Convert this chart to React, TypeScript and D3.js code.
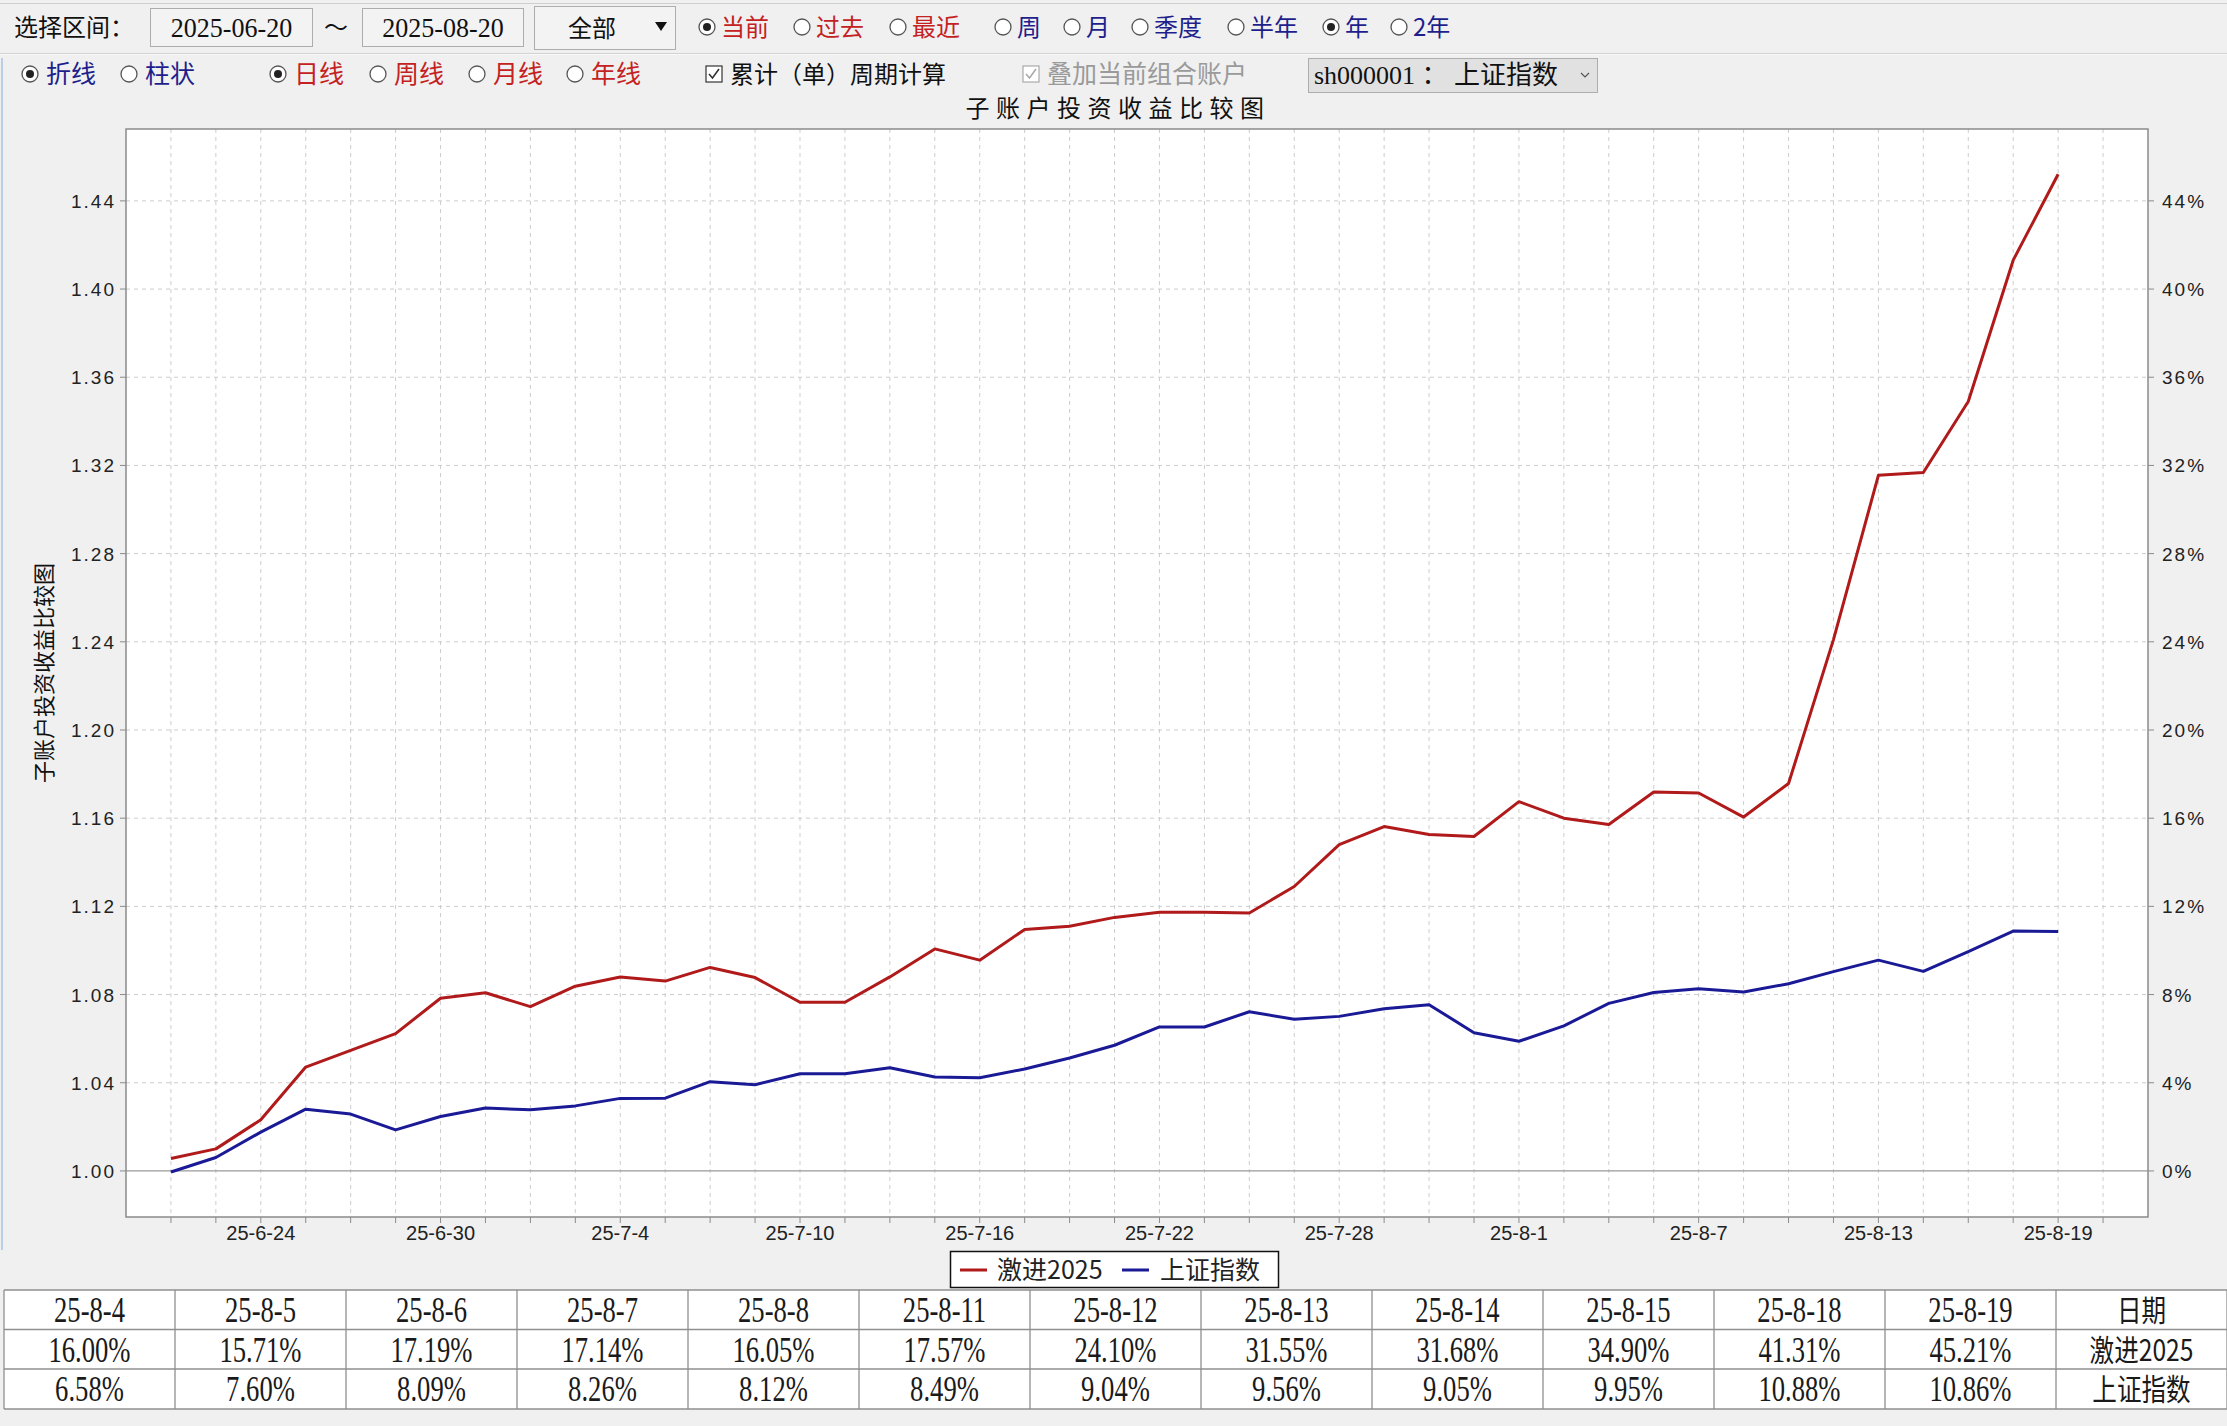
import React, { useEffect } from 'react';
import * as d3 from 'd3';

// ---------- data ----------
const dates = [
  '25-6-20', '25-6-23', '25-6-24', '25-6-25', '25-6-26', '25-6-27', '25-6-30',
  '25-7-1', '25-7-2', '25-7-3', '25-7-4', '25-7-7', '25-7-8', '25-7-9', '25-7-10', '25-7-11',
  '25-7-14', '25-7-15', '25-7-16', '25-7-17', '25-7-18', '25-7-21', '25-7-22', '25-7-23',
  '25-7-24', '25-7-25', '25-7-28', '25-7-29', '25-7-30', '25-7-31', '25-8-1',
  '25-8-4', '25-8-5', '25-8-6', '25-8-7', '25-8-8', '25-8-11', '25-8-12', '25-8-13',
  '25-8-14', '25-8-15', '25-8-18', '25-8-19', '25-8-20',
];
const seriesNames = ['激进2025', '上证指数'];
const aggressive2025 = [
  1.0056, 1.0100, 1.0232, 1.0471, 1.0547, 1.0623, 1.0783,
  1.0808, 1.0745, 1.0838, 1.0880, 1.0861, 1.0923, 1.0877, 1.0765, 1.0765,
  1.0880, 1.1007, 1.0956, 1.1095, 1.1110, 1.1150, 1.1173, 1.1173,
  1.1170, 1.1290, 1.1480, 1.1562, 1.1526, 1.1517, 1.1675,
  1.1600, 1.1571, 1.1719, 1.1714, 1.1605, 1.1757, 1.2410, 1.3155,
  1.3168, 1.3490, 1.4131, 1.4521,
];
const shIndex = [
  0.9995, 1.0061, 1.0176, 1.0280, 1.0258, 1.0186, 1.0247,
  1.0285, 1.0277, 1.0295, 1.0329, 1.0330, 1.0405, 1.0391, 1.0441, 1.0441,
  1.0468, 1.0426, 1.0423, 1.0462, 1.0512, 1.0570, 1.0653, 1.0653,
  1.0722, 1.0688, 1.0701, 1.0736, 1.0754, 1.0627, 1.0588,
  1.0658, 1.0760, 1.0809, 1.0826, 1.0812, 1.0849, 1.0904, 1.0956,
  1.0905, 1.0995, 1.1088, 1.1086,
];
const yTicks = [1.0, 1.04, 1.08, 1.12, 1.16, 1.2, 1.24, 1.28, 1.32, 1.36, 1.4, 1.44];
const xLabelDates = ['25-6-24', '25-6-30', '25-7-4', '25-7-10', '25-7-16', '25-7-22', '25-7-28', '25-8-1', '25-8-7', '25-8-13', '25-8-19'];
const tableDates = ['25-8-4', '25-8-5', '25-8-6', '25-8-7', '25-8-8', '25-8-11', '25-8-12', '25-8-13', '25-8-14', '25-8-15', '25-8-18', '25-8-19'];

const row1Radios = [
  { label: '当前', on: true, color: 'red' },
  { label: '过去', on: false, color: 'red' },
  { label: '最近', on: false, color: 'red' },
  { label: '周', on: false, color: 'blue' },
  { label: '月', on: false, color: 'blue' },
  { label: '季度', on: false, color: 'blue' },
  { label: '半年', on: false, color: 'blue' },
  { label: '年', on: true, color: 'blue' },
  { label: '2年', on: false, color: 'blue' },
];
const row1RadioX = [707, 802, 898, 1003, 1072, 1140, 1236, 1331, 1399];
const row2Radios = [
  { label: '折线', on: true, color: 'blue' },
  { label: '柱状', on: false, color: 'blue' },
  { label: '日线', on: true, color: 'red' },
  { label: '周线', on: false, color: 'red' },
  { label: '月线', on: false, color: 'red' },
  { label: '年线', on: false, color: 'red' },
];
const row2RadioX = [30, 129, 278, 378, 477, 575];

// ---------- style ----------
const W = 2227;
const H = 1426;
const BG = '#f0f0f0';
const RED = '#b01a1a';
const BLUE = '#1a1a96';
const UI_RED = '#c42222';
const UI_BLUE = '#1e1e8c';
const CJK = "'Noto Sans CJK SC', 'Noto Sans', sans-serif";
const SERIF = "'Liberation Serif', 'Noto Sans CJK SC', serif";
const SANS = "'Liberation Sans', Arial, sans-serif";

const plot = { left: 126, right: 2148, top: 129, bottom: 1217 };

function SText(props: any) {
  const { x, y, sx = 1, anchor = 'middle', size, family = CJK, fill = '#111', ls, weight, children } = props;
  return (
    <text
      transform={`translate(${x},${y}) scale(${sx},1)`}
      textAnchor={anchor}
      fontSize={size}
      fontFamily={family}
      fill={fill}
      letterSpacing={ls}
      fontWeight={weight}
    >
      {children}
    </text>
  );
}

function Radio({ cx, cy, on }: { cx: number; cy: number; on: boolean }) {
  return (
    <g>
      <circle cx={cx} cy={cy} r={8} fill="#fff" stroke="#555" strokeWidth={1.3} />
      {on && <circle cx={cx} cy={cy} r={4} fill="#222" />}
    </g>
  );
}

function Check({ cx, cy, color }: { cx: number; cy: number; color: string }) {
  return (
    <g>
      <rect x={cx - 8} y={cy - 8} width={16} height={16} fill="#fff" stroke={color} strokeWidth={1.2} />
      <path d={`M${cx - 5},${cy} L${cx - 1.5},${cy + 4} L${cx + 5},${cy - 5}`} fill="none" stroke={color} strokeWidth={1.6} />
    </g>
  );
}

export default function App() {
  useEffect(() => {
    document.body.style.margin = '0';
    document.body.style.background = BG;
  }, []);

  const x = d3.scalePoint<string>().domain(dates).range([plot.left, plot.right]).padding(1);
  const y = d3.scaleLinear().domain([0.9791, 1.4726]).range([plot.bottom, plot.top]);

  const line = d3
    .line<number>()
    .x((_, i) => x(dates[i]) as number)
    .y((d) => y(d));

  const series = [
    { name: seriesNames[0], values: aggressive2025, color: RED },
    { name: seriesNames[1], values: shIndex, color: BLUE },
  ];

  const pct = (v: number) => ((v - 1) * 100).toFixed(2) + '%';

  // table
  const tLeft = 4;
  const colW = (W - tLeft) / (tableDates.length + 1);
  const rowTops = [1290, 1329.5, 1369, 1409];

  return (
    <svg width={W} height={H} style={{ position: 'absolute', left: 0, top: 0, display: 'block' }}>
      <rect x={0} y={0} width={W} height={H} fill={BG} />

      {/* toolbar separators */}
      <line x1={0} x2={W} y1={3.5} y2={3.5} stroke="#cfcfcf" strokeWidth={1} />
      <line x1={0} x2={W} y1={53.5} y2={53.5} stroke="#d2d2d2" strokeWidth={1} />
      <line x1={0} x2={W} y1={54.5} y2={54.5} stroke="#fafafa" strokeWidth={1} />
      <line x1={2} x2={2} y1={58} y2={1250} stroke="#b9cfe6" strokeWidth={2} />

      {/* row 1 */}
      <SText x={14} y={36} size={24} anchor="start">选择区间：</SText>
      <rect x={150.5} y={8.5} width={162} height={38} fill="#f3f3f3" stroke="#adadad" />
      <SText x={231.5} y={37} size={28} family={SERIF} sx={0.93}>2025-06-20</SText>
      <SText x={336} y={36} size={24}>～</SText>
      <rect x={362.5} y={8.5} width={161} height={38} fill="#f3f3f3" stroke="#adadad" />
      <SText x={443} y={37} size={28} family={SERIF} sx={0.93}>2025-08-20</SText>
      <rect x={534.5} y={6.5} width={141} height={43} fill="#f3f3f3" stroke="#adadad" />
      <SText x={592} y={37} size={24}>全部</SText>
      <path d="M655,22 L667,22 L661,31 Z" fill="#111" />
      {row1Radios.map((r, i) => (
        <g key={r.label}>
          <Radio cx={row1RadioX[i]} cy={27} on={r.on} />
          <SText x={row1RadioX[i] + 14} y={36} size={24} anchor="start" fill={r.color === 'red' ? UI_RED : UI_BLUE}>
            {r.label}
          </SText>
        </g>
      ))}

      {/* row 2 */}
      {row2Radios.map((r, i) => (
        <g key={r.label}>
          <Radio cx={row2RadioX[i]} cy={74} on={r.on} />
          <SText x={row2RadioX[i] + 16} y={83} size={25} anchor="start" fill={r.color === 'red' ? UI_RED : UI_BLUE}>
            {r.label}
          </SText>
        </g>
      ))}
      <Check cx={714} cy={74} color="#333" />
      <SText x={730} y={83} size={24} anchor="start">累计（单）周期计算</SText>
      <Check cx={1031} cy={74} color="#aaa" />
      <SText x={1047} y={83} size={25} anchor="start" fill="#9a9a9a">叠加当前组合账户</SText>
      <rect x={1308.5} y={58.5} width={289} height={34} fill="#e1e1e1" stroke="#adadad" />
      <SText x={1314} y={84} size={26} family={SERIF} anchor="start">sh000001 ： 上证指数</SText>
      <path d="M1581,73 L1585,77 L1589,73" fill="none" stroke="#555" strokeWidth={1.2} />

      {/* title */}
      <SText x={1118} y={117} size={24} ls={6.5}>子账户投资收益比较图</SText>

      {/* plot background */}
      <rect x={plot.left} y={plot.top} width={plot.right - plot.left} height={plot.bottom - plot.top} fill="#fff" />

      {/* vertical grid */}
      {dates.map((d) => (
        <line
          key={'vg' + d}
          x1={x(d)}
          x2={x(d)}
          y1={plot.top}
          y2={plot.bottom}
          stroke="#cdcdcd"
          strokeWidth={1}
          strokeDasharray="4,4"
        />
      ))}
      {/* horizontal grid */}
      {yTicks.map((t) => (
        <line
          key={'hg' + t}
          x1={plot.left}
          x2={plot.right}
          y1={y(t)}
          y2={y(t)}
          stroke={t === 1 ? '#9a9a9a' : '#cdcdcd'}
          strokeWidth={t === 1 ? 1.3 : 1}
          strokeDasharray={t === 1 ? undefined : '4,4'}
        />
      ))}

      {/* series */}
      {series.map((s) => (
        <path key={s.name} d={line(s.values) || ''} fill="none" stroke={s.color} strokeWidth={3} strokeLinejoin="round" />
      ))}

      {/* border */}
      <rect
        x={plot.left}
        y={plot.top}
        width={plot.right - plot.left}
        height={plot.bottom - plot.top}
        fill="none"
        stroke="#8a8a8a"
        strokeWidth={1.5}
      />

      {/* y ticks left & right */}
      {yTicks.map((t) => (
        <g key={'yt' + t}>
          <line x1={plot.left - 6} x2={plot.left} y1={y(t)} y2={y(t)} stroke="#8a8a8a" />
          <line x1={plot.right} x2={plot.right + 6} y1={y(t)} y2={y(t)} stroke="#8a8a8a" />
          <SText x={116} y={y(t) + 7} size={19} family={SANS} anchor="end" ls={2} fill="#222">
            {t.toFixed(2)}
          </SText>
          <SText x={2162} y={y(t) + 7} size={19} family={SANS} anchor="start" ls={2} fill="#222">
            {Math.round((t - 1) * 100) + '%'}
          </SText>
        </g>
      ))}

      {/* x ticks */}
      {dates.map((d) => (
        <line key={'xt' + d} x1={x(d)} x2={x(d)} y1={plot.bottom} y2={plot.bottom + 6} stroke="#8a8a8a" />
      ))}
      {xLabelDates.map((d) => (
        <SText key={'xl' + d} x={x(d)} y={1240} size={20} family={SANS} fill="#222">
          {d}
        </SText>
      ))}

      {/* y axis title */}
      <text
        transform={`translate(52,${(plot.top + plot.bottom) / 2}) rotate(-90)`}
        textAnchor="middle"
        fontSize={22}
        fontFamily={CJK}
        fill="#111"
      >
        子账户投资收益比较图
      </text>

      {/* legend */}
      <rect x={950.5} y={1251.5} width={328} height={36} fill="#fff" stroke="#111" strokeWidth={1.5} />
      <line x1={960} x2={987} y1={1270} y2={1270} stroke={RED} strokeWidth={3} />
      <SText x={997} y={1279} size={25} anchor="start" fill="#222">{seriesNames[0]}</SText>
      <line x1={1122} x2={1149} y1={1270} y2={1270} stroke={BLUE} strokeWidth={3} />
      <SText x={1160} y={1279} size={25} anchor="start" fill="#222">{seriesNames[1]}</SText>

      {/* table */}
      <g>
        {[0, 1, 2].map((r) => (
          <rect key={'tr' + r} x={tLeft} y={rowTops[r]} width={W - tLeft} height={rowTops[r + 1] - rowTops[r]} fill="#fff" />
        ))}
        {rowTops.map((ty, i) => (
          <line key={'th' + i} x1={tLeft} x2={W} y1={ty} y2={ty} stroke="#8f8f8f" strokeWidth={1.3} />
        ))}
        {d3.range(tableDates.length + 2).map((c) => (
          <line
            key={'tv' + c}
            x1={tLeft + c * colW}
            x2={tLeft + c * colW}
            y1={rowTops[0]}
            y2={rowTops[3]}
            stroke="#8f8f8f"
            strokeWidth={1.3}
          />
        ))}
        {tableDates.map((d, c) => {
          const idx = dates.indexOf(d);
          const cx = tLeft + (c + 0.5) * colW;
          return (
            <g key={'tc' + d}>
              <SText x={cx} y={rowTops[0] + 32} size={36} family={SERIF} sx={0.74} fill="#1a1a1a">{d}</SText>
              <SText x={cx} y={rowTops[1] + 32} size={36} family={SERIF} sx={0.74} fill="#1a1a1a">{pct(aggressive2025[idx])}</SText>
              <SText x={cx} y={rowTops[2] + 32} size={36} family={SERIF} sx={0.74} fill="#1a1a1a">{pct(shIndex[idx])}</SText>
            </g>
          );
        })}
        {['日期', seriesNames[0], seriesNames[1]].map((lab, r) => (
          <SText key={'tl' + r} x={tLeft + (tableDates.length + 0.5) * colW} y={rowTops[r] + 31} size={30} sx={0.82} fill="#1a1a1a">
            {lab}
          </SText>
        ))}
      </g>
    </svg>
  );
}
